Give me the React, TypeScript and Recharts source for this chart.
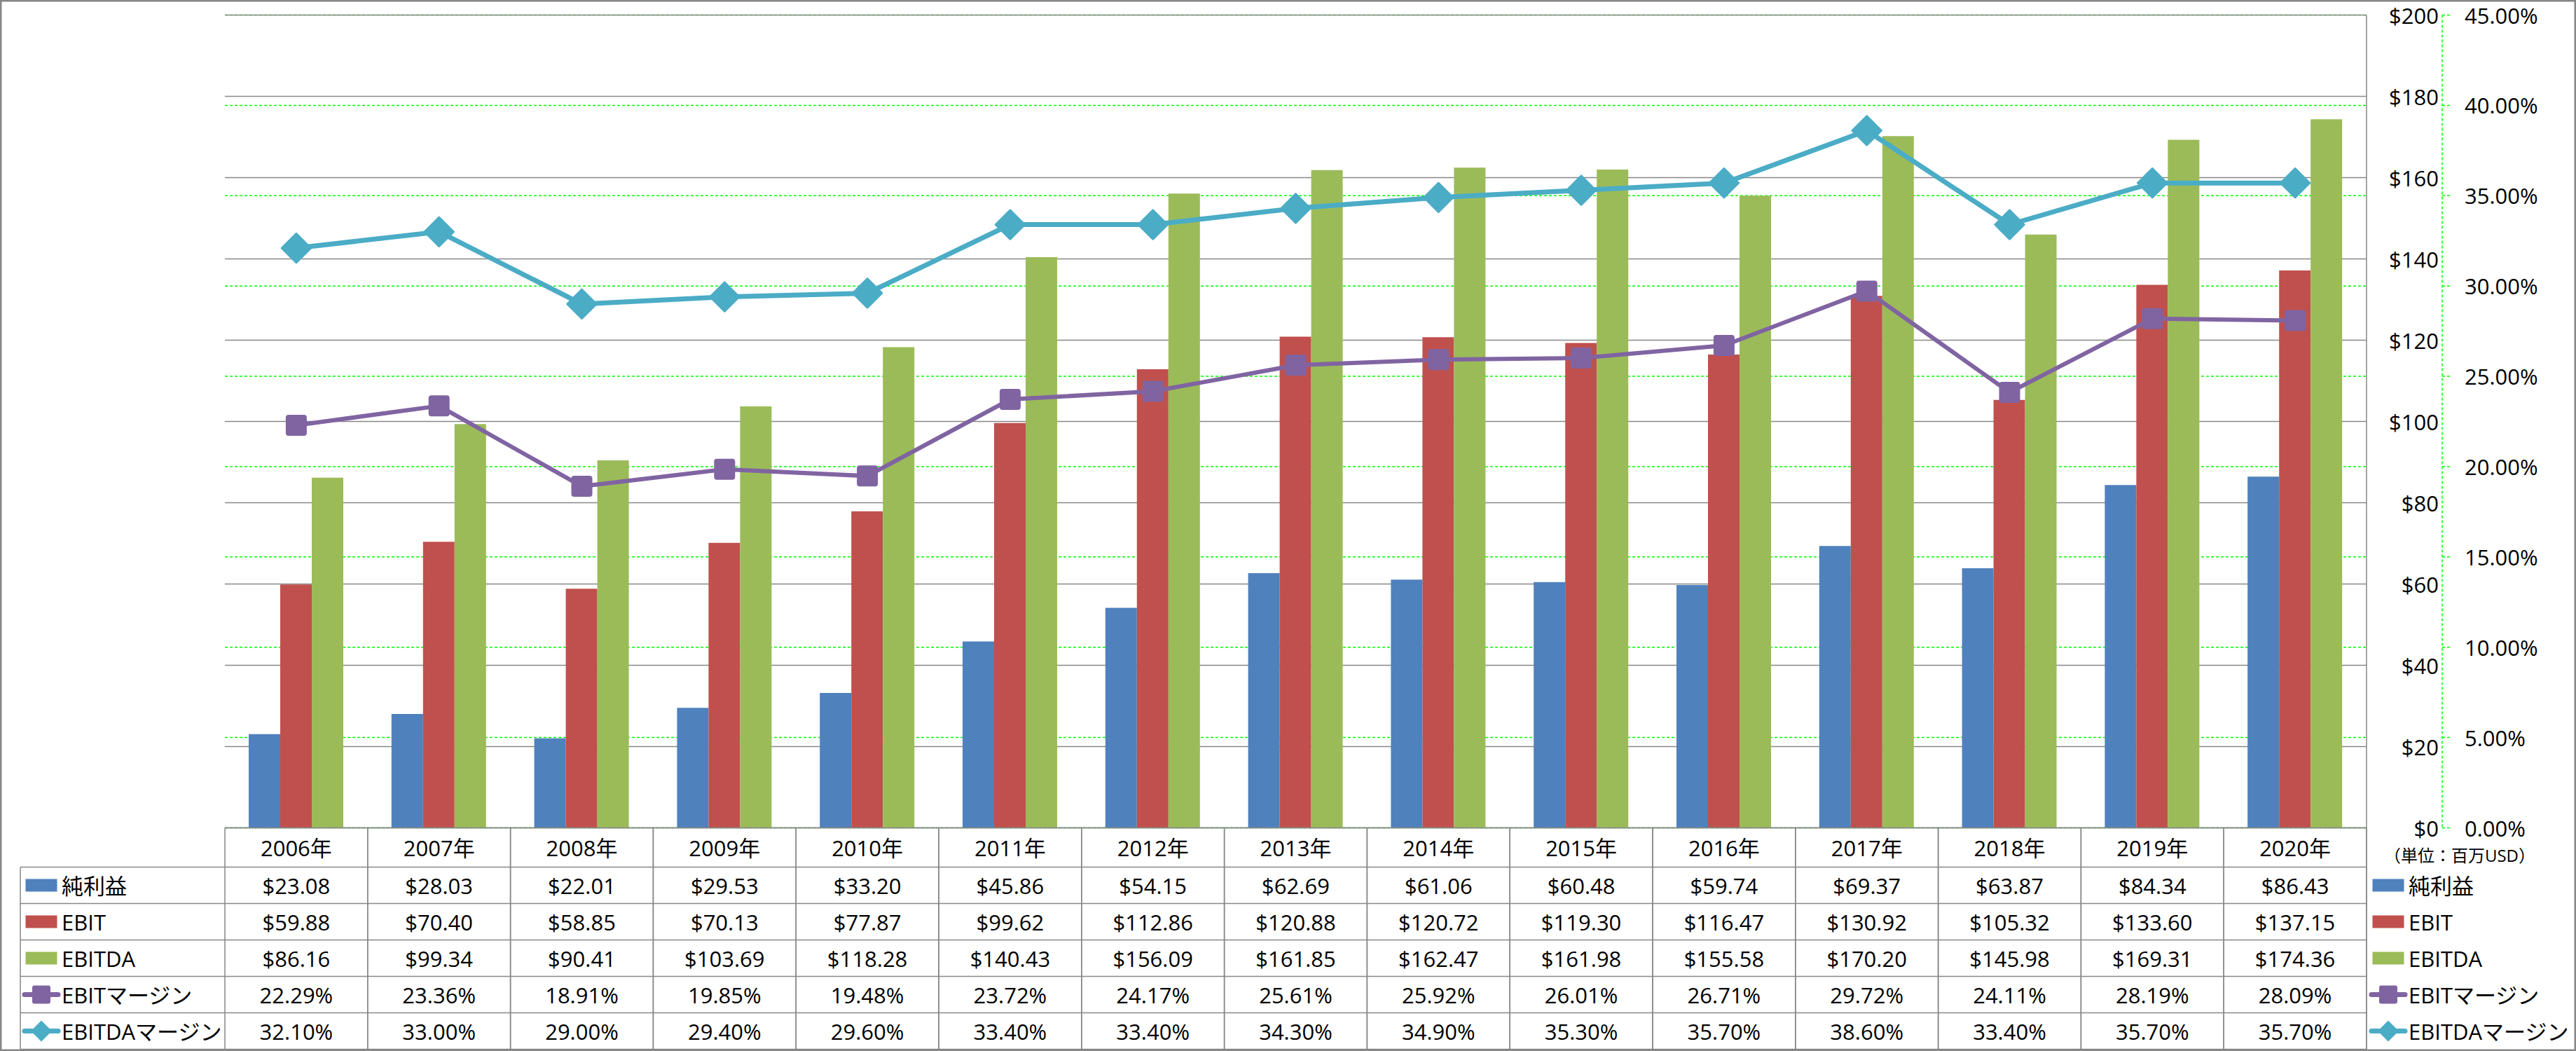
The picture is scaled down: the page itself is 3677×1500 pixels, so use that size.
import React from 'react';
import { ComposedChart, Bar, Line, XAxis, YAxis, CartesianGrid } from 'recharts';

// ---------- data ----------
const years = ['2006年', '2007年', '2008年', '2009年', '2010年', '2011年', '2012年', '2013年', '2014年', '2015年', '2016年', '2017年', '2018年', '2019年', '2020年'];
const netIncome = [23.08, 28.03, 22.01, 29.53, 33.2, 45.86, 54.15, 62.69, 61.06, 60.48, 59.74, 69.37, 63.87, 84.34, 86.43];
const ebit = [59.88, 70.4, 58.85, 70.13, 77.87, 99.62, 112.86, 120.88, 120.72, 119.3, 116.47, 130.92, 105.32, 133.6, 137.15];
const ebitda = [86.16, 99.34, 90.41, 103.69, 118.28, 140.43, 156.09, 161.85, 162.47, 161.98, 155.58, 170.2, 145.98, 169.31, 174.36];
const ebitMargin = [22.29, 23.36, 18.91, 19.85, 19.48, 23.72, 24.17, 25.61, 25.92, 26.01, 26.71, 29.72, 24.11, 28.19, 28.09];
const ebitdaMargin = [32.1, 33.0, 29.0, 29.4, 29.6, 33.4, 33.4, 34.3, 34.9, 35.3, 35.7, 38.6, 33.4, 35.7, 35.7];
const usdTicks = [0, 20, 40, 60, 80, 100, 120, 140, 160, 180, 200];
const pctTicks = [0, 5, 10, 15, 20, 25, 30, 35, 40, 45];
const seriesNames = ['純利益', 'EBIT', 'EBITDA', 'EBITマージン', 'EBITDAマージン'];
const unitLabel = '（単位：百万USD）';

// ---------- layout / style ----------
const W = 3677;
const H = 1500;
const M_LEFT = 321;
const M_TOP = 21.5;
const X_AXIS_H = 318.5;
const Y1_W = 108;
const Y2_W = 191;
const PLOT_RIGHT = W - Y1_W - Y2_W; // 3378
const PLOT_BOTTOM = H - X_AXIS_H; // 1181.5
const USD_LABEL_RIGHT = 3481;
const PCT_AXIS_X = 3486;
const PCT_TICK_LEN = 11;
const PCT_LABEL_LEFT = 3518;
const HEADER_H = 56;
const ROW_H = 52;
const TABLE_BOTTOM = PLOT_BOTTOM + HEADER_H + 5 * ROW_H;
const FONT = "'Open Sans', 'Noto Sans CJK JP', sans-serif";
const FS = 31;
const GRAY = '#878787';
const GREEN_GRID = '#00FF00';
const C_NET = '#4F81BD';
const C_EBIT = '#C0504D';
const C_EBITDA = '#9BBB59';
const C_EM = '#8064A2';
const C_EDM = '#4BACC6';
const seriesColors = [C_NET, C_EBIT, C_EBITDA, C_EM, C_EDM];

const data = years.map((y, i) => ({
  year: y,
  netIncome: netIncome[i],
  ebit: ebit[i],
  ebitda: ebitda[i],
  ebitMargin: ebitMargin[i],
  ebitdaMargin: ebitdaMargin[i],
}));

const rowValues = [netIncome, ebit, ebitda, ebitMargin, ebitdaMargin];
const fmtRow = (k: number, v: number) => (k < 3 ? `$${v.toFixed(2)}` : `${v.toFixed(2)}%`);

function TableTick(props: any) {
  const { x, y, payload } = props;
  const colW = (PLOT_RIGHT - M_LEFT) / years.length;
  const half = payload && typeof payload.offset === 'number' && payload.offset > 0 ? payload.offset : colW / 2;
  const idx = payload.index ?? years.indexOf(payload.value);
  const left = x - half;
  const right = x + half;
  const bottom = y + HEADER_H + 5 * ROW_H;
  const lines = [];
  for (let k = 0; k <= 5; k++) {
    const ry = y + HEADER_H + k * ROW_H;
    lines.push(<line key={`h${k}`} x1={left} x2={right} y1={ry} y2={ry} stroke={GRAY} strokeWidth={1.5} />);
  }
  return (
    <g>
      <line x1={left} x2={left} y1={y} y2={bottom} stroke={GRAY} strokeWidth={1.5} />
      <line x1={right} x2={right} y1={y} y2={bottom} stroke={GRAY} strokeWidth={1.5} />
      {lines}
      <text x={x} y={y + HEADER_H / 2} textAnchor="middle" dominantBaseline="central" fontFamily={FONT} fontSize={FS} fill="#000">
        {payload.value}
      </text>
      {rowValues.map((arr, k) => (
        <text key={k} x={x} y={y + HEADER_H + k * ROW_H + ROW_H / 2} textAnchor="middle" dominantBaseline="central" fontFamily={FONT} fontSize={FS} fill="#000">
          {fmtRow(k, arr[idx])}
        </text>
      ))}
    </g>
  );
}

function UsdTick(props: any) {
  const { y, payload } = props;
  return (
    <text x={USD_LABEL_RIGHT} y={y} textAnchor="end" dominantBaseline="central" fontFamily={FONT} fontSize={FS} fill="#000">
      {`$${payload.value}`}
    </text>
  );
}

function PctTick(props: any) {
  const { y, payload } = props;
  return (
    <g>
      <line x1={PCT_AXIS_X} x2={PCT_AXIS_X + PCT_TICK_LEN} y1={y} y2={y} stroke={GREEN_GRID} strokeWidth={1.5} strokeDasharray="4 3" />
      <text x={PCT_LABEL_LEFT} y={y} textAnchor="start" dominantBaseline="central" fontFamily={FONT} fontSize={FS} fill="#000">
        {`${Number(payload.value).toFixed(2)}%`}
      </text>
    </g>
  );
}

const diamondDot = (props: any) => {
  const { cx, cy, index } = props;
  if (cx == null || cy == null) return <g key={`d${index}`} />;
  const r = 21;
  return (
    <polygon
      key={`d${index}`}
      points={`${cx},${cy - r} ${cx + r},${cy} ${cx},${cy + r} ${cx - r},${cy}`}
      fill={C_EDM}
      stroke={C_EDM}
      strokeWidth={2.5}
      strokeLinejoin="round"
    />
  );
};

const squareDot = (props: any) => {
  const { cx, cy, index } = props;
  if (cx == null || cy == null) return <g key={`s${index}`} />;
  const s = 14;
  return <rect key={`s${index}`} x={cx - s} y={cy - s} width={2 * s} height={2 * s} rx={3} fill={C_EM} stroke={C_EM} strokeWidth={2} />;
};

function LegendIcon({ k, cx, cy }: { k: number; cx: number; cy: number }) {
  const c = seriesColors[k];
  if (k < 3) return <rect x={cx - 22.5} y={cy - 9} width={45} height={18} fill={c} />;
  const line = <line x1={cx - 24} x2={cx + 24} y1={cy} y2={cy} stroke={c} strokeWidth={7} strokeLinecap="round" />;
  if (k === 3)
    return (
      <g>
        {line}
        <rect x={cx - 13} y={cy - 13} width={26} height={26} rx={3} fill={c} />
      </g>
    );
  return (
    <g>
      {line}
      <polygon points={`${cx},${cy - 15} ${cx + 15},${cy} ${cx},${cy + 15} ${cx - 15},${cy}`} fill={c} />
    </g>
  );
}

function Overlay() {
  const rowTop = PLOT_BOTTOM + HEADER_H;
  const legL = 29;
  const rows = seriesNames.map((_, k) => rowTop + k * ROW_H + ROW_H / 2);
  return (
    <svg width={W} height={H} style={{ position: 'absolute', left: 0, top: 0, pointerEvents: 'none' }}>
      <rect x={1.25} y={1.25} width={W - 2.5} height={H - 2.5} fill="none" stroke={GRAY} strokeWidth={2.5} />
      {/* plot right border and secondary axis line */}
      <line x1={PLOT_RIGHT} x2={PLOT_RIGHT} y1={M_TOP} y2={TABLE_BOTTOM} stroke={GRAY} strokeWidth={1.5} />
      <line x1={PCT_AXIS_X} x2={PCT_AXIS_X} y1={M_TOP} y2={PLOT_BOTTOM} stroke={GREEN_GRID} strokeWidth={1.5} strokeDasharray="4 3" />
      {/* left legend column */}
      <line x1={legL} x2={legL} y1={rowTop} y2={TABLE_BOTTOM} stroke={GRAY} strokeWidth={1.5} />
      {[0, 1, 2, 3, 4, 5].map((k) => (
        <line key={k} x1={legL} x2={M_LEFT} y1={rowTop + k * ROW_H} y2={rowTop + k * ROW_H} stroke={GRAY} strokeWidth={1.5} />
      ))}
      {seriesNames.map((n, k) => (
        <g key={`l${k}`}>
          <LegendIcon k={k} cx={59} cy={rows[k]} />
          <text x={88} y={rows[k]} dominantBaseline="central" fontFamily={FONT} fontSize={FS} fill="#000">
            {n}
          </text>
        </g>
      ))}
      {/* right legend */}
      {seriesNames.map((n, k) => (
        <g key={`r${k}`}>
          <LegendIcon k={k} cx={3409} cy={rows[k]} />
          <text x={3438} y={rows[k]} dominantBaseline="central" fontFamily={FONT} fontSize={FS} fill="#000">
            {n}
          </text>
        </g>
      ))}
      <text x={3511} y={1220} textAnchor="middle" dominantBaseline="central" fontFamily={FONT} fontSize={24} fill="#000">
        {unitLabel}
      </text>
    </svg>
  );
}

export default function App() {
  return (
    <div style={{ position: 'absolute', left: 0, top: 0, width: W, height: H, background: '#fff' }}>
      <ComposedChart
        width={W}
        height={H}
        data={data}
        margin={{ top: M_TOP, right: 0, bottom: 0, left: M_LEFT }}
        barGap={0}
        barSize={45}
      >
        <CartesianGrid yAxisId="pct" vertical={false} stroke={GREEN_GRID} strokeWidth={1.5} strokeDasharray="4 3" />
        <CartesianGrid yAxisId="usd" vertical={false} stroke={GRAY} strokeWidth={1.5} />
        <XAxis
          dataKey="year"
          height={X_AXIS_H}
          interval={0}
          tickLine={false}
          tickSize={0}
          tickMargin={0}
          axisLine={{ stroke: GRAY, strokeWidth: 1.5 }}
          tick={<TableTick />}
        />
        <YAxis
          yAxisId="usd"
          orientation="right"
          width={Y1_W}
          domain={[0, 200]}
          ticks={usdTicks}
          interval={0}
          tickLine={false}
          tickSize={0}
          tickMargin={0}
          axisLine={false}
          tick={<UsdTick />}
        />
        <YAxis
          yAxisId="pct"
          orientation="right"
          width={Y2_W}
          domain={[0, 45]}
          ticks={pctTicks}
          interval={0}
          tickLine={false}
          tickSize={0}
          tickMargin={0}
          axisLine={false}
          tick={<PctTick />}
        />
        <Bar yAxisId="usd" dataKey="netIncome" name={seriesNames[0]} fill={C_NET} isAnimationActive={false} />
        <Bar yAxisId="usd" dataKey="ebit" name={seriesNames[1]} fill={C_EBIT} isAnimationActive={false} />
        <Bar yAxisId="usd" dataKey="ebitda" name={seriesNames[2]} fill={C_EBITDA} isAnimationActive={false} />
        <Line yAxisId="pct" dataKey="ebitMargin" name={seriesNames[3]} stroke={C_EM} strokeWidth={6} dot={squareDot} activeDot={false} isAnimationActive={false} />
        <Line yAxisId="pct" dataKey="ebitdaMargin" name={seriesNames[4]} stroke={C_EDM} strokeWidth={7} dot={diamondDot} activeDot={false} isAnimationActive={false} />
      </ComposedChart>
      <Overlay />
    </div>
  );
}
